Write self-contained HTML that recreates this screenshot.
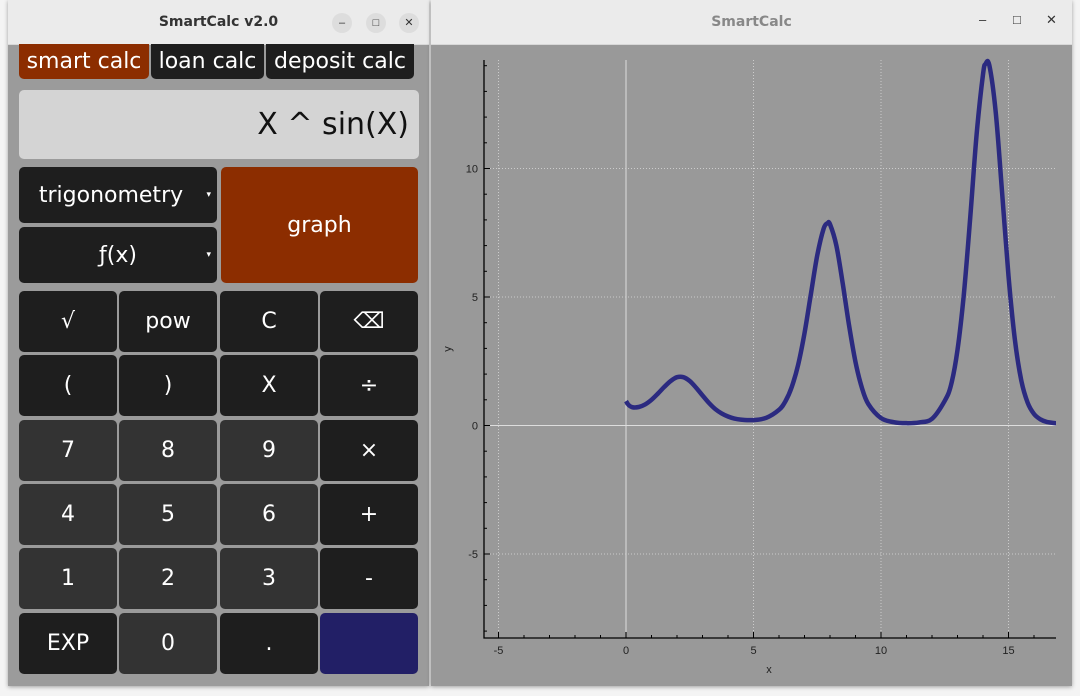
<!DOCTYPE html>
<html><head><meta charset="utf-8"><style>
body{margin:0;width:1080px;height:696px;background:#f4f4f4;position:relative;overflow:hidden;font-family:"Liberation Sans","DejaVu Sans",sans-serif}
.win{position:absolute;background:#999;box-shadow:0 1px 4px rgba(0,0,0,.35)}
.tb{position:absolute;left:0;right:0;top:0;height:44px;background:#ebebeb;border-bottom:1px solid #d8d8d8}
.tt{position:absolute;width:100%;top:14px;text-align:center;font:bold 14px "DejaVu Sans",sans-serif;color:#333}
.wb{position:absolute;top:13px;width:20px;height:20px;border-radius:10px;background:#ddd;font-size:11px;text-align:center;line-height:20px;color:#333}
.b{position:absolute;background:#1e1e1e;color:#fff;border-radius:5px;display:flex;align-items:center;justify-content:center;font:22px "DejaVu Sans",sans-serif}
.l{background:#333}
</style></head><body>
<div class="win" style="left:8px;top:0;width:421px;height:686px;background:#9b9b9b">
<div class="tb"><div class="tt">SmartCalc v2.0</div>
<div class="wb" style="left:324px">–</div>
<div class="wb" style="left:358px">□</div>
<div class="wb" style="left:391px">✕</div></div>
<div class="b" style="left:11px;top:44px;width:130px;height:35px;background:#8c2d00;border-radius:0 0 5px 5px">smart calc</div>
<div class="b" style="left:143px;top:44px;width:113px;height:35px;border-radius:0 0 5px 5px">loan calc</div>
<div class="b" style="left:258px;top:44px;width:148px;height:35px;border-radius:0 0 5px 5px">deposit calc</div>
<div class="b" style="left:11px;top:90px;width:400px;height:69px;background:#d4d4d4;color:#111;justify-content:flex-end;font-size:30px"><span style="margin-right:10px">X ^ sin(X)</span></div>
<div class="b" style="left:11px;top:167px;width:198px;height:56px">trigonometry&nbsp;&nbsp;<span style="font-size:9px;position:absolute;right:6px">▾</span></div>
<div class="b" style="left:11px;top:227px;width:198px;height:56px">ƒ(x)<span style="font-size:9px;position:absolute;right:6px">▾</span></div>
<div class="b" style="left:213px;top:167px;width:197px;height:116px;background:#8c2d00">graph</div>
<div id="keys"></div>
</div>
<div class="win" style="left:431px;top:0;width:641px;height:686px">
<div class="tb"><div class="tt" style="color:#888">SmartCalc</div>
<div style="position:absolute;left:548px;top:12px;font-size:13px;color:#333">–</div>
<div style="position:absolute;left:582px;top:12px;font-size:13px;color:#333">□</div>
<div style="position:absolute;left:615px;top:12px;font-size:13px;color:#333">✕</div></div>
</div>
<svg id="chart" width="1080" height="696" style="position:absolute;left:0;top:0"></svg>
<script>
const keyLabels=[["√","pow","C","⌫"],["(",")","X","÷"],["7","8","9","×"],["4","5","6","+"],["1","2","3","-"],["EXP","0",".",""]];
const colX=[11,111,212,312],colW=[98,98,98,98],rowY=[291,355,420,484,548,613];
const keys=document.getElementById('keys');
keyLabels.forEach((r,i)=>r.forEach((t,j)=>{const d=document.createElement('div');d.className='b';
const light=(i>=2&&i<=4&&j<3)||(i==5&&j==1);if(light)d.classList.add('l');
if(i==5&&j==3)d.style.background='#221f66';
d.style.left=colX[j]+'px';d.style.top=rowY[i]+'px';d.style.width=colW[j]+'px';d.style.height='61px';d.textContent=t;


keys.appendChild(d);}));
</script>
<script>
const xs=[0,0.1,0.25,0.5,0.75,1,1.25,1.5,1.75,2,2.25,2.5,2.75,3,3.25,3.5,3.75,4,4.25,4.5,5,5.5,6,6.25,6.5,6.75,7,7.25,7.5,7.75,7.9,8,8.25,8.5,8.75,9,9.25,9.5,10,10.5,11,11.5,12,12.5,12.75,13,13.25,13.5,13.75,14,14.1,14.25,14.5,14.75,15,15.25,15.5,15.75,16,16.25,16.5,17];
const ys=[0.95,0.8,0.71,0.72,0.82,1,1.24,1.5,1.73,1.88,1.88,1.73,1.47,1.17,0.88,0.64,0.47,0.35,0.27,0.23,0.21,0.3,0.61,0.94,1.5,2.36,3.59,5.11,6.62,7.66,7.87,7.83,7.0,5.52,3.88,2.47,1.47,0.84,0.29,0.13,0.09,0.12,0.26,0.96,1.59,2.94,5.12,8.1,11.33,13.66,14.07,14.01,12.18,9.05,5.82,3.34,1.76,0.89,0.45,0.24,0.14,0.07];
const xTicks=[-5,0,5,10,15],yTicks=[-5,0,5,10];
const L=484,R=1056,T=60,B=638;
const X=v=>626+v*25.5, Y=v=>425.5-v*25.7;
const s=document.getElementById('chart');const NS='http://www.w3.org/2000/svg';
function el(t,a,txt){const e=document.createElementNS(NS,t);for(const k in a)e.setAttribute(k,a[k]);if(txt!=null)e.textContent=txt;s.appendChild(e);return e;}
xTicks.forEach(v=>{const g=el('line',{x1:X(v),x2:X(v),y1:T,y2:B,stroke:v==0?'#ddd':'#ccc','stroke-dasharray':v==0?'':'1,2'});


const t=el('text',{x:X(v),y:654,'text-anchor':'middle','font-size':11,fill:'#222'},String(v));

});
yTicks.forEach(v=>{const g=el('line',{x1:L,x2:R,y1:Y(v),y2:Y(v),stroke:v==0?'#ddd':'#ccc','stroke-dasharray':v==0?'':'1,2'});


const t=el('text',{x:478,y:Y(v)+4,'text-anchor':'end','font-size':11,fill:'#222'},String(v));

});
for(let v=-5;v<=16;v++){const e=el('line',{x1:X(v),x2:X(v),y1:B,y2:B-(v%5?3:6),stroke:'#000'});}
for(let v=-8;v<=14;v++){const e=el('line',{x1:L,x2:L+(v%5?3:6),y1:Y(v),y2:Y(v),stroke:'#000'});}
const ax=el('path',{d:`M${L},${T} V${B} H${R}`,stroke:'#000',fill:'none','stroke-width':1.3});


const xl=el('text',{x:769,y:673,'text-anchor':'middle','font-size':11,fill:'#222'},'x');


const yl=el('text',{x:451,y:349,'text-anchor':'middle','font-size':11,fill:'#222',transform:'rotate(-90 451 349)'},'y');


const P=xs.map((x,i)=>[X(x),Y(ys[i])]);
let d=`M${P[0][0]},${P[0][1]}`;
for(let i=0;i<P.length-1;i++){const p0=P[Math.max(0,i-1)],p1=P[i],p2=P[i+1],p3=P[Math.min(P.length-1,i+2)];
d+=` C${p1[0]+(p2[0]-p0[0])/6},${p1[1]+(p2[1]-p0[1])/6} ${p2[0]-(p3[0]-p1[0])/6},${p2[1]-(p3[1]-p1[1])/6} ${p2[0]},${p2[1]}`;}
const cp=el('clipPath',{id:'cl'});const rc=document.createElementNS(NS,'rect');rc.setAttribute('x',L);rc.setAttribute('y',T-4);rc.setAttribute('width',R-L);rc.setAttribute('height',B-T+4);cp.appendChild(rc);
const c=el('path',{d,stroke:'#2b2a80',fill:'none','stroke-width':4.5,'clip-path':'url(#cl)','stroke-linejoin':'round'});


</script>
</body></html>
